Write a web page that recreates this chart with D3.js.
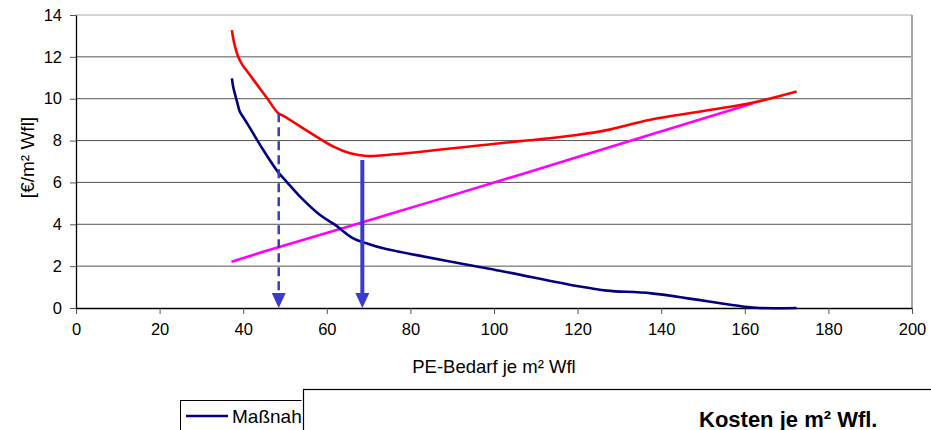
<!DOCTYPE html>
<html lang="de">
<head>
    <meta charset="UTF-8">
    <title>Kosten je m² Wfl.</title>
    <script src="https://d3js.org/d3.v7.min.js"></script>
    <style>
        body { margin: 0; background: #fff; }
        svg { display: block; font-family: Arial, "Liberation Sans", sans-serif; }
    </style>
</head>
<body>
<div id="chart"></div>
<script>
    // series values (x = PE-Bedarf, y = €/m² Wfl)
    var massnahmeX = [37.3, 37.6, 38.0, 38.6, 39.2, 40.2, 41.2, 44.8, 48.4, 50.4, 53.6, 58.4, 62.0, 66.3, 69.5, 73.5, 101.4, 119.8, 127.0, 137.7, 160.0, 163.6, 172.4];
    var massnahmeY = [10.97, 10.57, 10.25, 9.8, 9.38, 9.06, 8.74, 7.55, 6.48, 6.03, 5.32, 4.44, 3.97, 3.33, 3.09, 2.85, 1.78, 1.05, 0.83, 0.70, 0.06, 0.0, 0.0];

    var gesamtX = [37.3, 37.6, 38.1, 38.8, 39.8, 41.2, 43.4, 45.6, 48.4, 49.6, 61.6, 65.6, 69.5, 74.3, 101.4, 119.8, 127.0, 137.7, 161.2, 172.4];
    var gesamtY = [13.28, 12.89, 12.45, 12.01, 11.62, 11.24, 10.65, 10.06, 9.30, 9.18, 7.71, 7.39, 7.26, 7.31, 7.87, 8.27, 8.50, 9.01, 9.78, 10.34];

    var energieX = [37.2, 48.8, 74.3, 101.4, 119.8, 162.0];
    var energieY = [2.21, 2.93, 4.44, 6.08, 7.20, 9.78];

    // arrows: dashed one at the first knee, solid one at the minimum
    var arrowX = [48.5, 68.5];
    var arrowTop = [9.3, 7.07];
    var arrowDashed = [true, false];

    var xTicks = [0, 20, 40, 60, 80, 100, 120, 140, 160, 180, 200];
    var yTicks = [0, 2, 4, 6, 8, 10, 12, 14];

    var width = 931;
    var height = 430;
    var margin = { top: 15, left: 76, right: 19, bottom: 122 };

    var svg = d3.select("#chart")
        .append("svg")
        .attr("width", width)
        .attr("height", height);

    var x = d3.scaleLinear().domain([0, 200]).range([margin.left, width - margin.right]);
    var y = d3.scaleLinear().domain([0, 14]).range([height - margin.bottom, margin.top]);

    // horizontal grid
    svg.append("g")
        .selectAll("line")
        .data(yTicks.filter(function (d) { return d > 0; }))
        .enter().append("line")
        .attr("x1", x(0)).attr("x2", x(200))
        .attr("y1", function (d) { return y(d); })
        .attr("y2", function (d) { return y(d); })
        .attr("stroke", function (d) { return d === 14 ? "#a6a6a6" : "#555"; })
        .attr("stroke-width", 1);

    // right border
    svg.append("line")
        .attr("x1", x(200)).attr("x2", x(200))
        .attr("y1", y(14)).attr("y2", y(0))
        .attr("stroke", "#a6a6a6")
        .attr("stroke-width", 2);

    // axes
    var xAxis = svg.append("g")
        .attr("transform", "translate(0," + y(0) + ")")
        .call(d3.axisBottom(x).tickValues(xTicks).tickSize(6).tickSizeOuter(0).tickPadding(9));
    var yAxis = svg.append("g")
        .attr("transform", "translate(" + x(0) + ",0)")
        .call(d3.axisLeft(y).tickValues(yTicks).tickSize(6).tickSizeOuter(0).tickPadding(8));

    [xAxis, yAxis].forEach(function (g) {
        g.select(".domain").attr("stroke", "#000").attr("stroke-width", 1.3);
        g.selectAll(".tick line").attr("stroke", "#555");
        g.selectAll("text").attr("font-size", 16.5).attr("fill", "#000")
            .attr("font-family", "Arial, 'Liberation Sans', sans-serif");
    });

    // axis titles
    svg.append("text")
        .attr("x", (x(0) + x(200)) / 2)
        .attr("y", 373)
        .attr("text-anchor", "middle")
        .attr("font-size", 18.5)
        .text("PE-Bedarf je m² Wfl");

    svg.append("text")
        .attr("transform", "translate(34," + ((y(0) + y(14)) / 2 - 4) + ") rotate(-90)")
        .attr("text-anchor", "middle")
        .attr("font-size", 19)
        .text("[€/m² Wfl]");

    // lines
    function series(xs, ys) {
        return xs.map(function (v, i) { return [v, ys[i]]; });
    }
    var line = d3.line()
        .x(function (d) { return x(d[0]); })
        .y(function (d) { return y(d[1]); })
        .curve(d3.curveCatmullRom.alpha(0.5));

    var lines = [
        { data: series(energieX, energieY), color: "#ff00ff" },
        { data: series(massnahmeX, massnahmeY), color: "#000080" },
        { data: series(gesamtX, gesamtY), color: "#ff0000" }
    ];

    svg.append("g")
        .selectAll("path")
        .data(lines)
        .enter().append("path")
        .attr("d", function (d) { return line(d.data); })
        .attr("fill", "none")
        .attr("stroke", function (d) { return d.color; })
        .attr("stroke-width", 2.6)
        .attr("stroke-linejoin", "round");

    // arrows
    var arrowColor = "#3a3ad0";
    var headH = 15, headW = 7;
    var arrows = arrowX.map(function (v, i) { return { x: v, top: arrowTop[i], dashed: arrowDashed[i] }; });

    var ag = svg.append("g").selectAll("g").data(arrows).enter().append("g");
    ag.append("line")
        .attr("x1", function (d) { return x(d.x); })
        .attr("x2", function (d) { return x(d.x); })
        .attr("y1", function (d) { return y(d.top); })
        .attr("y2", y(0) - headH + 1)
        .attr("stroke", arrowColor)
        .attr("stroke-width", function (d) { return d.dashed ? 2.5 : 4; })
        .attr("stroke-dasharray", function (d) { return d.dashed ? "9,5" : null; });
    ag.append("path")
        .attr("d", function (d) {
            var cx = x(d.x), b = y(0);
            return "M" + (cx - headW) + "," + (b - headH) + "L" + (cx + headW) + "," + (b - headH) + "L" + cx + "," + b + "Z";
        })
        .attr("fill", arrowColor);

    // legend (partly hidden behind the title box)
    svg.append("defs").append("clipPath").attr("id", "legclip")
        .append("rect").attr("x", 180).attr("y", 400).attr("width", 121.5).attr("height", 40);

    var leg = svg.append("g").attr("clip-path", "url(#legclip)");
    leg.append("rect")
        .attr("x", 180.5).attr("y", 400.5).attr("width", 200).attr("height", 60)
        .attr("fill", "#fff").attr("stroke", "#000").attr("stroke-width", 1);
    leg.append("line")
        .attr("x1", 186).attr("x2", 228).attr("y1", 416).attr("y2", 416)
        .attr("stroke", "#000080").attr("stroke-width", 2.6);
    leg.append("text")
        .attr("x", 232).attr("y", 423)
        .attr("font-size", 19)
        .text("Maßnahme");

    // title box
    svg.append("rect")
        .attr("x", 303.5).attr("y", 389.5).attr("width", 700).attr("height", 100)
        .attr("fill", "#fff").attr("stroke", "#000").attr("stroke-width", 1.2);
    svg.append("text")
        .attr("x", 699).attr("y", 427)
        .attr("font-size", 22)
        .attr("font-weight", "bold")
        .text("Kosten je m² Wfl.");
</script>
</body>
</html>
